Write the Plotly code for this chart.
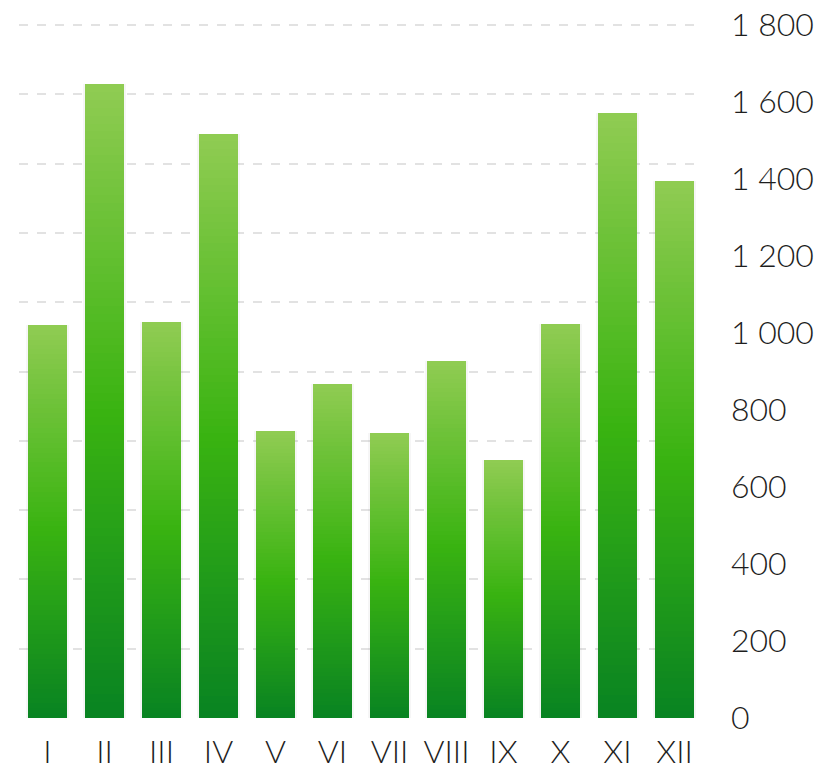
import plotly.graph_objects as go

months = ["I", "II", "III", "IV", "V", "VI", "VII", "VIII", "IX", "X", "XI", "XII"]
values = [1021, 1647, 1029, 1517, 745, 868, 740, 927, 670, 1023, 1571, 1395]
tick_vals = [0, 200, 400, 600, 800, 1000, 1200, 1400, 1600, 1800]
tick_text = ["0", "200", "400", "600", "800", "1 000", "1 200", "1 400", "1 600", "1 800"]
grid_vals = [0, 180, 360, 540, 720, 900, 1080, 1260, 1440, 1620, 1800]

# gradient stops (fraction from bottom, rgb)
stops = [(0.0, (9, 136, 36)), (0.48, (60, 186, 18)), (1.0, (150, 212, 86))]

def color_at(f):
    for (f0, c0), (f1, c1) in zip(stops[:-1], stops[1:]):
        if f0 <= f <= f1:
            t = (f - f0) / (f1 - f0)
            c = [round(a + (b - a) * t) for a, b in zip(c0, c1)]
            return "rgb(%d,%d,%d)" % tuple(c)
    return "rgb(%d,%d,%d)" % stops[-1][1]

N = 80
fig = go.Figure()

# soft shadow behind bars (separate overlaid x axis so it does not stack)
fig.add_trace(go.Bar(x=months, y=values, width=0.77,
                     marker=dict(color="rgba(0,0,0,0.035)", line=dict(width=0)),
                     xaxis="x2", yaxis="y", hoverinfo="skip", showlegend=False))

for i in range(N):
    f = (i + 0.5) / N
    fig.add_trace(go.Bar(x=months, y=[v / N for v in values],
                         marker=dict(color=color_at(f), line=dict(width=0)),
                         hoverinfo="skip", showlegend=False))

# invisible trace for grid axis
fig.add_trace(go.Scatter(x=[months[0]], y=[0], yaxis="y2", mode="lines",
                         line=dict(width=0), hoverinfo="skip", showlegend=False))

axis_font = dict(family="Lato", size=32, color="#1e1e1e", weight=300)
y_top = 1800 * 695 / 693

fig.update_layout(
    width=828, height=763,
    margin=dict(l=11, r=133, t=15, b=53),
    paper_bgcolor="white", plot_bgcolor="white",
    barmode="stack", bargap=0.316,
    showlegend=False,
    xaxis=dict(showgrid=False, zeroline=False, showline=False, automargin=False,
               range=[-0.5, 11.5], tickfont=axis_font, ticks="", ticklabelstandoff=12,
               ticklabeloverflow="allow"),
    xaxis2=dict(overlaying="x", matches="x", visible=False),
    yaxis=dict(side="right", range=[0, y_top], tickvals=tick_vals, ticktext=tick_text,
               showgrid=False, zeroline=False, showline=False, ticks="", automargin=False,
               tickfont=axis_font, ticklabelstandoff=27, ticklabeloverflow="allow"),
    yaxis2=dict(overlaying="y", side="right", range=[0, y_top], tickvals=grid_vals,
                automargin=False, showticklabels=False, showgrid=True, gridcolor="#e2e2e2",
                gridwidth=1.5, griddash="dash", zeroline=False, showline=False),
)

fig.write_html("out.html")
